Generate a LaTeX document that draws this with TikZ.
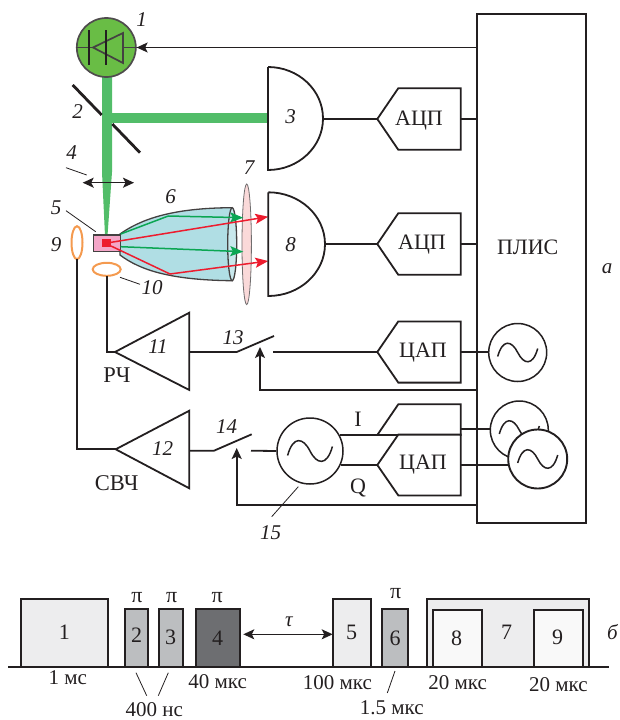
\documentclass[tikz,border=0pt]{standalone}
\usepackage{fontspec}
\setmainfont{Liberation Serif}
\usetikzlibrary{arrows.meta,calc}
\definecolor{ink}{HTML}{231F20}
\definecolor{beam}{HTML}{52BD69}
\definecolor{laser}{HTML}{69BD45}
\definecolor{ringc}{HTML}{F49A4F}
\definecolor{cone}{HTML}{B0DEE4}
\definecolor{lensc}{HTML}{FAD9D9}
\definecolor{samp}{HTML}{F4A6C8}
\definecolor{rayr}{HTML}{ED1C2E}
\definecolor{rayg}{HTML}{0BA653}
\definecolor{pl}{HTML}{EDEDEE}
\definecolor{pm}{HTML}{BCBEC0}
\definecolor{pd}{HTML}{6D6E71}
\definecolor{pw}{HTML}{F9F9F9}
\tikzset{
  wire/.style={draw=ink,line width=1.8pt},
  thin wire/.style={draw=ink,line width=1.3pt},
  leader/.style={draw=ink,line width=0.8pt},
  block/.style={draw=ink,line width=1.8pt,fill=white,line join=miter},
  osc/.style={circle,draw=ink,line width=1.5pt,fill=white,minimum size=58pt,inner sep=0pt},
  tiparrow/.style={-{Stealth[length=11pt,width=10pt,inset=2.5pt]}},
  tipboth/.style={{Stealth[length=11pt,width=10pt,inset=2.5pt]}-{Stealth[length=11pt,width=10pt,inset=2.5pt]}},
  num/.style={font=\fontsize{21}{21}\selectfont\itshape,text=ink,inner sep=0pt},
  txt/.style={font=\fontsize{22}{22}\selectfont,text=ink,inner sep=0pt},
  txtb/.style={font=\fontsize{22.5}{22.5}\selectfont,text=ink,inner sep=0pt},
  time/.style={font=\fontsize{21}{21}\selectfont,text=ink,inner sep=0pt},
  pulse/.style={draw=ink,line width=2pt},
  raygreen/.style={draw=rayg,line width=1.5pt,-{Stealth[length=13pt,width=10pt,inset=2.5pt]}},
  rayred/.style={draw=rayr,line width=1.5pt,-{Stealth[length=13pt,width=10pt,inset=2.5pt]}},
}
\newcommand{\sine}[2]{%
  \draw[ink,line width=1.5pt] ($(#1.center)+(-20*#2,4*#2)$) .. controls ($(#1.center)+(-15*#2,-14*#2)$) and ($(#1.center)+(-6*#2,-12*#2)$) .. (#1.center)
    .. controls ($(#1.center)+(6*#2,12*#2)$) and ($(#1.center)+(15*#2,14*#2)$) .. ($(#1.center)+(20*#2,-4*#2)$);}
\newcommand{\pentagon}[3]{% name, apex y, half height
  \coordinate (#1) at (377.3,#2);
  \coordinate (#1R) at (460.7,#2);
  \draw[block] (#1) -- (398.3,#2-#3) -- (460.7,#2-#3) -- (460.7,#2+#3) -- (398.3,#2+#3) -- cycle;}
\begin{document}
\begin{tikzpicture}[x=1pt,y=-1pt]
\useasboundingbox (0,0) rectangle (620,720);

% FPGA
\node[draw=ink,line width=1.8pt,minimum width=109pt,minimum height=509pt,inner sep=0pt] (fpga) at (531.2,268.5) {};
\node[txt] (fpgat) at (527.7,247) {ПЛИС};
\coordinate (fL1) at (476.7,47.5);
\coordinate (fL2) at (476.7,119);
\coordinate (fL3) at (476.7,244);
\coordinate (fL4) at (476.7,390);
\coordinate (fL5) at (476.7,505);

% beams
\fill[beam] (102,77) -- (112,77) -- (112,172) -- (107.2,240) -- (105.2,240) -- (102,172) -- cycle;
\fill[beam] (112,113) rectangle (268,123);

% laser
\node[circle,draw=ink!80,line width=1.7pt,fill=laser,minimum size=59pt,inner sep=0pt] (laser) at (106.3,47.5) {};
\draw[ink!85,line width=1.7pt] (laser.west) -- (93,47.5);
\draw[ink!85,line width=1.7pt] (123,47.5) -- (laser.east);
\draw[ink!85,line width=1.7pt,line join=miter] (93,47.5) -- (123,33) -- (123,63) -- cycle;
\draw[ink,line width=1.8pt] (88.7,30) -- (88.7,65);
\draw[ink,line width=1.8pt] (106,30) -- (106,65);
\draw[thin wire,tiparrow] (fL1) -- (laser.east);

% mirror
\draw[ink,line width=2.8pt] (72.7,85) -- (101.7,115);
\draw[ink,line width=2.8pt] (112.3,124) -- (140,152.7);

% detector 3
\coordinate (d3) at (323,119);
\draw[block] (268,67) -- (268,170) arc[start angle=270,end angle=450,x radius=55,y radius=-51.5];
\pentagon{adc1}{119}{30.8}
\node[txt] (adc1t) at (419,121) {АЦП};
\draw[wire] (d3) -- (adc1);
\draw[wire] (adc1R) -- (fL2);

% lens 4 arrow
\coordinate (l4a) at (82.7,182.7);
\coordinate (l4b) at (134,182.7);
\draw[ink,line width=1.3pt,tipboth] (l4a) -- (l4b);

% cone 6
\draw[fill=cone,draw=ink!85,line width=1.3pt] (120,234) .. controls (140,220) and (170,208) .. (231.7,207.7)
  -- (231.7,280.7) .. controls (170,280) and (140,270) .. (120,255) -- cycle;
\draw[fill=cone!70!white,draw=ink!85,line width=1.3pt] (232.2,244.2) ellipse[x radius=4.5,y radius=36.5];

% sample
\draw[fill=samp,draw=ink!85,line width=1.5pt] (93.3,235) rectangle (120.7,251.7);
\fill[rayr] (102.3,239.3) rectangle (111,247.3);

% lens 7
\draw[fill=lensc,draw=ink!65,line width=0.8pt] (246.7,244.3) ellipse[x radius=4.7,y radius=60.3];

% rays
\draw[raygreen] (120.7,234) -- (168.3,216) -- (243.3,217.7);
\draw[raygreen] (120.7,246.7) -- (243.3,251.7);
\draw[rayred] (107,243) -- (268.3,216.7);
\draw[rayred] (111,246) -- (170,274) -- (268.3,261);

% detector 8
\coordinate (d8) at (325,244);
\draw[block] (268.3,192.3) -- (268.3,296) arc[start angle=270,end angle=450,x radius=56.7,y radius=-51.85];
\pentagon{adc2}{244}{30.8}
\node[txt] (adc2t) at (422,244.5) {АЦП};
\draw[wire] (d8) -- (adc2);
\draw[wire] (adc2R) -- (fL3);

% rings
\draw[ringc,line width=2pt] (77,242.7) ellipse[x radius=5.5,y radius=16.5];
\draw[ringc,line width=2pt] (106.7,269.3) ellipse[x radius=14,y radius=6.5];
\coordinate (r9) at (77,259.2);
\coordinate (r10) at (106.7,275.8);

% amp 11
\coordinate (a11) at (115,352);
\coordinate (a11R) at (189.3,352);
\draw[block] (a11) -- (189.3,312.7) -- (189.3,390) -- cycle;
\draw[wire] (r10) |- (a11);
% amp 12
\coordinate (a12) at (115.7,449.3);
\coordinate (a12R) at (189.3,450.7);
\draw[block] (a12) -- (189.3,410.7) -- (189.3,488.3) -- cycle;
\draw[wire] (r9) |- (a12);

% switch 13 and DAC 1
\coordinate (s13a) at (236.7,352);
\coordinate (s13b) at (274,336);
\coordinate (s13c) at (273,352);
\draw[wire] (a11R) -- (s13a) -- (s13b);
\pentagon{dac1}{352}{30.6}
\node[txt] (dac1t) at (423,352.5) {ЦАП};
\draw[wire] (s13c) -- (dac1);
\coordinate (s13t) at (260,347);
\draw[wire,tiparrow] (fL4) -| (s13t);

% switch 14 and oscillator 15
\coordinate (s14a) at (214,450.7);
\coordinate (s14b) at (251.7,434.3);
\coordinate (s14c) at (251,450.7);
\draw[wire] (a12R) -- (s14a) -- (s14b);
\node[osc,minimum size=66pt] (o15) at (310,451) {};
\sine{o15}{1.12}
\draw[wire] (s14c) -- (o15.west);
\coordinate (s14t) at (236.7,448);
\draw[wire,tiparrow] (fL5) -| (s14t);

% IQ DAC
\coordinate (dac2) at (377.3,435);
\coordinate (dac2R) at (460.7,429);
\draw[block] (dac2) -- (398.3,404.3) -- (460.7,404.3) -- (460.7,435) -- (398.3,435) -- cycle;
\pentagon{dac3}{465}{30.4}
\node[txt] (dac3t) at (423,465) {ЦАП};
\coordinate (oI) at (340,435);
\coordinate (oQ) at (341,465);
\draw[wire] (oI) -- (dac2);
\draw[wire] (oQ) -- (dac3);

% oscillators in FPGA
\draw[wire] (dac1R) -- (488.7,352);
\draw[wire] (dac2R) -- (490.3,429);
\draw[wire] (dac3R) -- (508.2,465);
\node[osc] (o1) at (517.7,352.5) {};
\sine{o1}{1}
\node[osc] (o2) at (519.3,430) {};
\sine{o2}{1}
\node[osc,line width=1.9pt,minimum size=59pt] (o3) at (537.7,459) {};
\sine{o3}{1}

% leaders
\coordinate (ld4a) at (66,167.7); \coordinate (ld4b) at (86.7,175);
\draw[leader] (ld4a) -- (ld4b);
\coordinate (ld5a) at (66,210.7); \coordinate (ld5b) at (95.7,231.7);
\draw[leader] (ld5a) -- (ld5b);
\coordinate (ld10a) at (120,277.3); \coordinate (ld10b) at (140,284.3);
\draw[leader] (ld10a) -- (ld10b);
\coordinate (ld15a) at (298.3,486.7); \coordinate (ld15b) at (271.7,516.7);
\draw[leader] (ld15a) -- (ld15b);

% number labels
\node[num] (n1) at (141.7,20) {1};
\node[num] (n2) at (77.7,111.7) {2};
\node[num] (n3) at (290.7,116.7) {3};
\node[num] (n4) at (71.7,152.7) {4};
\node[num] (n5) at (56,207.7) {5};
\node[num] (n6) at (170.7,196.7) {6};
\node[num] (n7) at (249,168) {7};
\node[num] (n8) at (290.7,245) {8};
\node[num] (n9) at (56,245) {9};
\node[num] (n10) at (152,288) {10};
\node[num] (n11) at (158,346.7) {11};
\node[num] (n12) at (162.7,449) {12};
\node[num] (n13) at (233,338) {13};
\node[num] (n14) at (226.7,427) {14};
\node[num] (n15) at (270.7,533) {15};
\node[num] (na) at (607,269) {а};
\node[txtb] (rf) at (117,375) {РЧ};
\node[txtb] (mw) at (116.7,483) {СВЧ};
\node[txt] (lI) at (358,419) {I};
\node[txt] (lQ) at (358,488) {Q};

% timing diagram
\coordinate (bl) at (8.3,666.7);
\coordinate (br) at (609.3,666.7);
\draw[pulse,fill=pl] (20.7,666.7) rectangle (108.3,599.3);
\draw[pulse,fill=pm] (125,666.7) rectangle (148.3,608.7);
\draw[pulse,fill=pm] (159.3,666.7) rectangle (182.7,608.7);
\draw[pulse,fill=pd] (195.7,666.7) rectangle (240,608.7);
\draw[pulse,fill=pl] (333.3,666.7) rectangle (371,599.3);
\draw[pulse,fill=pm] (382,666.7) rectangle (407.7,608.7);
\draw[pulse,fill=pl] (426.7,666.7) rectangle (589.3,599.3);
\draw[pulse,fill=pw] (432.7,666.7) rectangle (481.7,610);
\draw[pulse,fill=pw] (534,666.7) rectangle (583.3,610);
\draw[ink,line width=2pt] (bl) -- (br);

\node[txt] (p1) at (64.3,632.7) {1};
\node[txt] (p2) at (136.7,635.7) {2};
\node[txt] (p3) at (170.7,637.7) {3};
\node[txt] (p4) at (217.7,638) {4};
\node[txt] (p5) at (351.7,632.7) {5};
\node[txt] (p6) at (395,638) {6};
\node[txt] (p7) at (506.7,632) {7};
\node[txt] (p8) at (456.7,638) {8};
\node[txt] (p9) at (557.7,637) {9};

\node[txt] (pi1) at (137,598) {π};
\node[txt] (pi2) at (171.7,598) {π};
\node[txt] (pi3) at (217.3,598) {π};
\node[txt] (pi4) at (395.7,594) {π};

\coordinate (ta) at (243.3,634.3);
\coordinate (tb) at (332.7,634.3);
\draw[ink,line width=1.3pt,tipboth] (ta) -- (tb);
\node[num] (tau) at (289,621.7) {τ};

\node[time] (t1) at (67.7,678) {1 мс};
\node[time] (t2) at (217.7,681.7) {40 мкс};
\node[time] (t3) at (154.3,709.5) {400 нс};
\node[time] (t4) at (337.3,683) {100 мкс};
\node[time] (t5) at (391.7,708) {1.5 мкс};
\node[time] (t6) at (457.7,682.7) {20 мкс};
\node[time] (t7) at (558.3,685) {20 мкс};
\node[num] (nb) at (612.5,631.7) {б};

\coordinate (sl1a) at (136,672.7); \coordinate (sl1b) at (146.7,695.7);
\coordinate (sl2a) at (168.3,672.7); \coordinate (sl2b) at (158.3,695.7);
\coordinate (sl3a) at (395,671); \coordinate (sl3b) at (387.3,693);
\draw[leader] (sl1a) -- (sl1b);
\draw[leader] (sl2a) -- (sl2b);
\draw[leader] (sl3a) -- (sl3b);
\end{tikzpicture}
\end{document}
